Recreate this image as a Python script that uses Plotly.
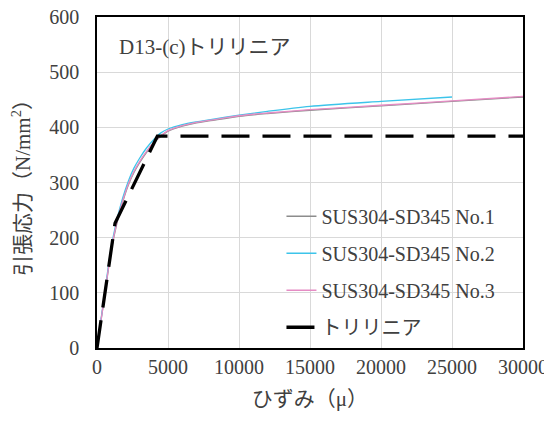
import plotly.graph_objects as go

strain_no1 = [0, 500, 1000, 1400, 1800, 2200, 2600, 3000, 3500, 4000, 4500, 5000, 6000, 7000, 8000, 10000, 12000, 15000, 20000, 25000, 30000]
stress_no1 = [0, 88, 176, 226, 264, 295, 318, 336, 355, 372, 384, 393, 402, 408, 412, 420, 425, 431, 439, 447, 455]

strain_no2 = [0, 500, 1000, 1400, 1800, 2200, 2600, 3000, 3500, 4000, 4500, 5000, 6000, 7000, 8000, 10000, 12000, 15000, 20000, 25000]
stress_no2 = [0, 92, 182, 232, 271, 302, 326, 344, 363, 378, 390, 397, 405, 410, 414, 422, 429, 438, 447, 455]

strain_no3 = [0, 500, 1000, 1400, 1800, 2200, 2600, 3000, 3500, 4000, 4500, 5000, 6000, 7000, 8000, 10000, 12000, 15000, 20000, 25000, 30000]
stress_no3 = [0, 89, 178, 228, 266, 297, 320, 338, 357, 373, 385, 394, 403, 409, 413, 421, 426, 432, 440, 448, 456]

strain_tri = [0, 1270, 4250, 30000]
stress_tri = [0, 226, 384, 384]

names = ["SUS304-SD345 No.1", "SUS304-SD345 No.2", "SUS304-SD345 No.3", "トリリニア"]

FONT = "Liberation Serif, 'Noto Sans CJK JP', serif"
TXT = "#404040"

fig = go.Figure()
fig.add_trace(go.Scatter(x=strain_no1, y=stress_no1, mode="lines", name=names[0],
                         line=dict(color="#8c8c8c", width=1.3, shape="spline", smoothing=0.8), legendgroup="a"))
fig.add_trace(go.Scatter(x=strain_no2, y=stress_no2, mode="lines", name=names[1],
                         line=dict(color="#3cc4ea", width=1.3, shape="spline", smoothing=0.8), legendgroup="b"))
fig.add_trace(go.Scatter(x=strain_no3, y=stress_no3, mode="lines", name=names[2],
                         line=dict(color="#e58cc4", width=1.3, shape="spline", smoothing=0.8), legendgroup="c"))
fig.add_trace(go.Scatter(x=strain_tri, y=stress_tri, mode="lines", name=names[3],
                         line=dict(color="black", width=3.3, dash="28px,13px"), legendgroup="d"))

# the page has a default 8px body margin, so the figure is sized to the remaining area
fig.update_layout(
    width=544, height=413,
    margin=dict(l=89, r=29, t=9, b=73),
    paper_bgcolor="white", plot_bgcolor="white",
    font=dict(family=FONT, size=21, color=TXT),
    showlegend=True,
    legend=dict(x=0.433, y=0.457, xanchor="left", yanchor="top",
                bgcolor="rgba(0,0,0,0)", font=dict(size=20, color=TXT),
                tracegroupgap=8, traceorder="grouped"),
    xaxis=dict(range=[0, 30000], dtick=5000, tickformat="d", showgrid=True, gridcolor="#d9d9d9", gridwidth=1,
               showline=True, linecolor="black", linewidth=1.5, mirror=True, automargin=False,
               zeroline=False, ticks="", tickfont=dict(size=20, color=TXT), ticklabeloverflow="allow",
               title=dict(text="ひずみ（μ）", font=dict(size=21, color=TXT), standoff=15)),
    yaxis=dict(range=[0, 600], dtick=100, showgrid=True, gridcolor="#d9d9d9", gridwidth=1,
               showline=True, linecolor="black", linewidth=1.5, mirror=True, automargin=False,
               zeroline=False, ticks="", tickfont=dict(size=20, color=TXT), ticklabelstandoff=12,
               ticklabeloverflow="allow",
               title=dict(text="引張応力（N/mm<sup>2</sup>）", font=dict(size=21, color=TXT), standoff=18)),
    annotations=[dict(text="D13-(c)トリリニア", xref="paper", yref="paper", x=0.047, y=0.909,
                      xanchor="left", yanchor="middle", showarrow=False,
                      font=dict(size=21, color=TXT))],
)

fig.write_html("out.html")
